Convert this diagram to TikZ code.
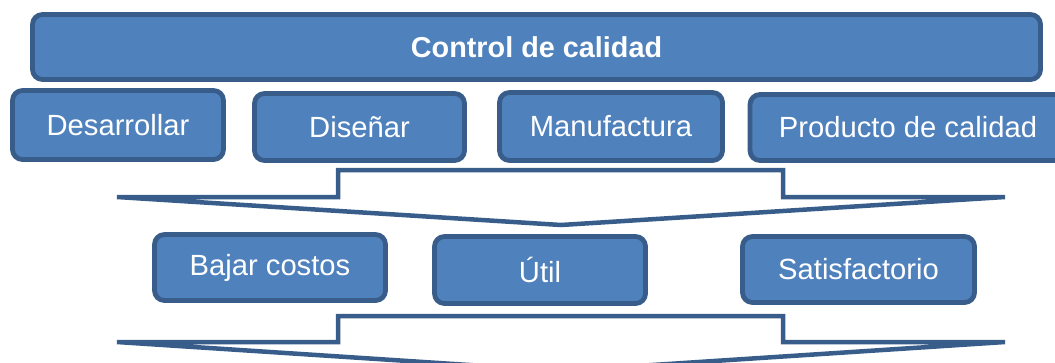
\documentclass[tikz,border=0pt]{standalone}
\usepackage{fontspec}
\setmainfont{Liberation Sans}
\definecolor{boxfill}{HTML}{4F81BD}
\definecolor{boxline}{HTML}{385D8A}
\begin{document}
\begin{tikzpicture}[x=1pt,y=-1pt,
  box/.style={draw=boxline, fill=boxfill, line width=4.8pt, rounded corners=10pt,
    text=white, inner sep=0pt, font=\fontsize{29.2}{31}\selectfont},
  bigarrow/.style={draw=boxline, fill=white, line width=4.5pt}]
\useasboundingbox (0,0) rectangle (1055,362);
\clip (0,0) rectangle (1055,362);
\node[box, minimum width=1008pt, minimum height=65pt, font=\bfseries\fontsize{28.8}{31}\selectfont] (ctrl) at (536.5,47) {Control de calidad};
\node[box, minimum width=211pt, minimum height=69pt] (des) at (118,125) {Desarrollar};
\node[box, minimum width=210pt, minimum height=67pt] (dis) at (359.5,127) {Diseñar};
\node[box, minimum width=223pt, minimum height=68pt] (man) at (611,126.5) {Manufactura};
\node[box, minimum width=316pt, minimum height=66pt] (prod) at (908,127.5) {Producto de calidad};
\draw[bigarrow] (338,170) -- (783,170) -- (783,197) -- (1005,197) -- (561,225) -- (117,197) -- (338,197) -- cycle;
\node[box, minimum width=231pt, minimum height=66pt] (baj) at (270,267.5) {Bajar costos};
\node[box, minimum width=211pt, minimum height=67pt] (util) at (540,270) {Útil};
\node[box, minimum width=232pt, minimum height=66pt] (sat) at (858.5,269.5) {Satisfactorio};
\draw[bigarrow] (338,316) -- (783,316) -- (783,342) -- (1005,342) -- (561,371) -- (117,342) -- (338,342) -- cycle;
\end{tikzpicture}
\end{document}
